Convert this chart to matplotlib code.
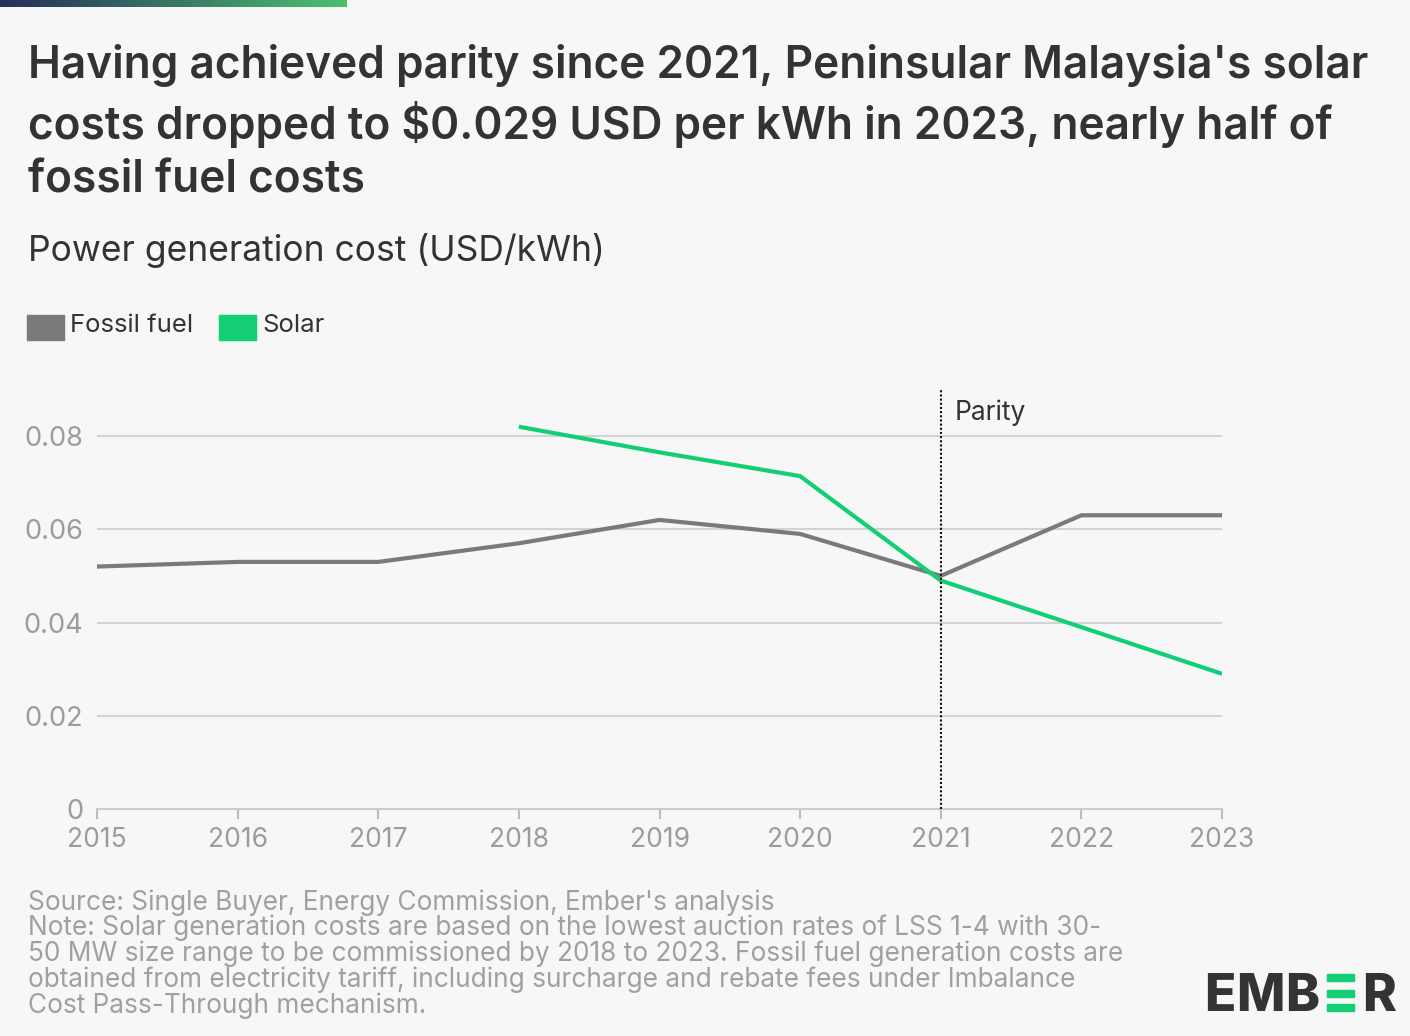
import numpy as np
import matplotlib; matplotlib.use("Agg")
import matplotlib.pyplot as plt
from matplotlib.patches import Rectangle

years = [2015, 2016, 2017, 2018, 2019, 2020, 2021, 2022, 2023]
fossil = [0.052, 0.053, 0.053, 0.057, 0.062, 0.059, 0.050, 0.063, 0.063]
solar_years = [2018, 2019, 2020, 2021, 2022, 2023]
solar = [0.082, 0.0765, 0.0714, 0.049, 0.039, 0.029]
yticks = [0, 0.02, 0.04, 0.06, 0.08]
ytick_labels = ["0", "0.02", "0.04", "0.06", "0.08"]
parity_year = 2021

BG = "#f7f7f7"; GREY = "#7a7a7a"; GREEN = "#13ce74"; DARK = "#333333"; LIGHT = "#9c9c9c"
plt.rcParams["font.family"] = ["Inter", "DejaVu Sans"]

fig = plt.figure(figsize=(14.1, 10.36), dpi=100, facecolor=BG)
W, H = 1410, 1036
def fx(px): return px / W
def fy(py): return 1 - py / H

# top gradient bar
grad = fig.add_axes([0, fy(7), fx(347), 7 / H])
grad.imshow(np.linspace(0, 1, 256)[None, :], aspect="auto",
            cmap=matplotlib.colors.LinearSegmentedColormap.from_list("g", ["#262f5b", "#4cc070"]))
grad.axis("off")

title = ("Having achieved parity since 2021, Peninsular Malaysia's solar\n"
         "costs dropped to $0.029 USD per kWh in 2023, nearly half of\n"
         "fossil fuel costs")
fig.text(fx(28), fy(44), title, fontsize=31.8, fontweight="semibold", color=DARK,
         va="top", ha="left", linespacing=1.36)
fig.text(fx(28), fy(251), "Power generation cost (USD/kWh)", fontsize=25.5, color=DARK,
         va="center", ha="left")

# legend
for x0, lab, col in [(27, "Fossil fuel", GREY), (219, "Solar", GREEN)]:
    fig.patches.append(Rectangle((fx(x0), fy(340)), fx(37), 25 / H, transform=fig.transFigure,
                                 color=col, zorder=3))
    fig.text(fx(x0 + 43), fy(326), lab, fontsize=18.5, color=DARK, va="center", ha="left")

ax = fig.add_axes([fx(97), fy(809), fx(1222) - fx(97), (809 - 389.4) / H])
ax.set_facecolor(BG)
ax.set_xlim(2015, 2023)
ax.set_ylim(0, 0.09)
for y in yticks[1:]:
    ax.axhline(y, color="#d3d3d3", lw=1.5, zorder=1)
ax.plot(years, fossil, color=GREY, lw=3, zorder=3, solid_capstyle="butt")
ax.plot(solar_years, solar, color=GREEN, lw=3, zorder=4, solid_capstyle="butt")
ax.axvline(parity_year, color="#111111", lw=1.5, ls=(0, (1, 1)), zorder=5)
ax.text(parity_year + 0.1, 0.085, "Parity", fontsize=19, color=DARK, va="center", ha="left")

for s in ["top", "right", "left"]:
    ax.spines[s].set_visible(False)
ax.spines["bottom"].set_color("#cccccc"); ax.spines["bottom"].set_linewidth(1.5)
ax.set_xticks(years)
ax.set_xticklabels([str(y) for y in years])
ax.set_yticks(yticks)
ax.set_yticklabels(ytick_labels)
ax.tick_params(axis="x", colors="#bbbbbb", length=7, width=1.5, labelsize=19, pad=6)
ax.tick_params(axis="y", length=0, labelsize=19.5, pad=10)
for lab in ax.get_xticklabels() + ax.get_yticklabels():
    lab.set_color(LIGHT)

note = ("Source: Single Buyer, Energy Commission, Ember's analysis\n"
        "Note: Solar generation costs are based on the lowest auction rates of LSS 1-4 with 30-\n"
        "50 MW size range to be commissioned by 2018 to 2023. Fossil fuel generation costs are\n"
        "obtained from electricity tariff, including surcharge and rebate fees under Imbalance\n"
        "Cost Pass-Through mechanism.")
fig.text(fx(28), fy(889), note, fontsize=18.9, color="#a0a0a0", va="top", ha="left", linespacing=0.97)

# EMBER logo
for ch, x0 in [("E", 1204), ("M", 1236), ("B", 1285), ("R", 1362)]:
    fig.text(fx(x0), fy(1011), ch, fontsize=37, fontweight="heavy", color=DARK,
             va="baseline", ha="left")
for y0 in [974, 990, 1004]:
    fig.patches.append(Rectangle((fx(1327), fy(y0 + 7)), fx(27), 7 / H, transform=fig.transFigure,
                                 color=GREEN))

fig.savefig("out.png", dpi=100, facecolor=BG)
